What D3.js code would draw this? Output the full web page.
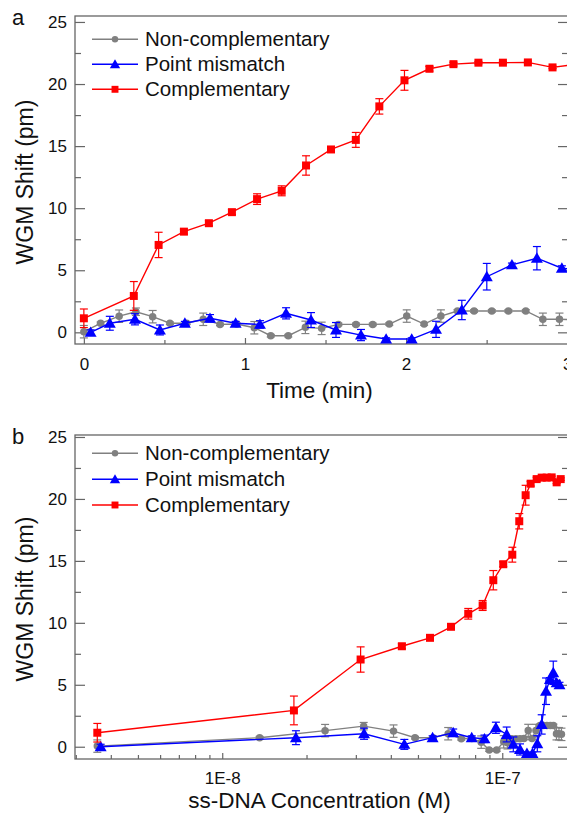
<!DOCTYPE html>
<html>
<head>
<meta charset="utf-8">
<script src="https://cdn.jsdelivr.net/npm/d3@7"></script>
<style>
html,body{margin:0;padding:0;background:#fff;}
svg{display:block;}
text{font-family:"Liberation Sans",Arial,sans-serif;fill:#111;}
</style>
</head>
<body>
<svg id="chart" width="567" height="816"></svg>
<script>
// ---------- data ----------
const seriesNames = ["Non-complementary", "Point mismatch", "Complementary"];

// Non-complementary
const timeNon = [0,0.104,0.219,0.323,0.427,0.534,0.638,0.741,0.845,0.948,1.058,1.16,1.269,1.375,1.476,1.58,1.689,1.793,1.896,2.004,2.112,2.216,2.319,2.422,2.532,2.635,2.743,2.849,2.952,3.056];
const concNon = [3.58e-9,1.36e-8,2.33e-8,3.20e-8,4.09e-8,4.88e-8,5.66e-8,6.41e-8,7.14e-8,7.78e-8,8.41e-8,8.98e-8,9.55e-8,1.012e-7,1.044e-7,1.080e-7,1.119e-7,1.157e-7,1.195e-7,1.238e-7,1.277e-7,1.319e-7,1.363e-7,1.403e-7,1.444e-7,1.486e-7,1.523e-7,1.562e-7,1.594e-7,1.627e-7];
const shiftNon = [0.05,0.73,1.3,1.66,1.26,0.73,0.73,1.05,0.64,0.67,0.37,-0.27,-0.27,0.4,0.32,0.64,0.64,0.64,0.67,1.31,0.67,1.31,1.72,1.72,1.72,1.72,1.72,1.05,1.05,1.0];
const errNon = [0.5,0.1,0.5,0.3,0.5,0.1,0.1,0.5,0.1,0.1,0.5,0.1,0.1,0.5,0.5,0.1,0.1,0.1,0.1,0.5,0.1,0.5,0.1,0.1,0.1,0.1,0.1,0.5,0.5,0.5];

// Point mismatch
const timePM = [0.042,0.161,0.317,0.472,0.627,0.783,0.942,1.093,1.255,1.41,1.565,1.72,1.876,2.035,2.186,2.346,2.501,2.657,2.812,2.967,3.12];
const concPM = [3.68e-9,1.833e-8,3.21e-8,4.47e-8,5.64e-8,6.68e-8,7.78e-8,8.64e-8,9.49e-8,1.037e-7,1.095e-7,1.157e-7,1.225e-7,1.282e-7,1.334e-7,1.383e-7,1.433e-7,1.480e-7,1.521e-7,1.564e-7,1.601e-7];
const shiftPM = [0.0,0.73,1.05,0.19,0.73,1.13,0.73,0.64,1.53,0.99,0.19,-0.22,-0.54,-0.54,0.24,1.8,4.48,5.43,5.97,5.16,5.0];
const errPM = [0.2,0.56,0.45,0.4,0.15,0.3,0.15,0.3,0.45,0.6,0.6,0.45,0.1,0.1,0.65,0.78,1.07,0.15,0.94,0.2,0.2];

// Complementary
const timeC = [0,0.31,0.464,0.621,0.776,0.919,1.075,1.228,1.379,1.534,1.688,1.834,1.99,2.145,2.294,2.449,2.601,2.756,2.909,3.06];
const concC = [3.58e-9,1.803e-8,3.12e-8,4.38e-8,5.52e-8,6.56e-8,7.56e-8,8.51e-8,9.29e-8,1.008e-7,1.086e-7,1.15e-7,1.212e-7,1.263e-7,1.327e-7,1.383e-7,1.441e-7,1.501e-7,1.564e-7,1.617e-7];
const shiftC = [1.13,2.93,7.04,8.11,8.79,9.68,10.73,11.4,13.44,14.73,15.5,18.2,20.3,21.23,21.6,21.72,21.72,21.74,21.34,21.6];
const errC = [0.75,1.16,1.02,0.2,0.2,0.2,0.43,0.4,0.78,0.2,0.6,0.62,0.8,0.19,0.15,0.1,0.1,0.1,0.1,0.1];

// ticks
const yTicks = [0,5,10,15,20,25];
const yMinor = [2.5,7.5,12.5,17.5,22.5];
const timeTicks = [0,1,2,3];
const timeMinor = [0.5,1.5,2.5];
const concTicks = [1e-8,1e-7];
const concTickLabels = ["1E-8","1E-7"];
const concMinor = [3e-9,4e-9,5e-9,6e-9,7e-9,8e-9,9e-9,2e-8,3e-8,4e-8,5e-8,6e-8,7e-8,8e-8,9e-8];

const colors = ["#808080","#0000ff","#ff0000"];
const symbols = [d3.symbolCircle, d3.symbolTriangle, d3.symbolSquare];
const symSizes = [44, 62, 64];

// ---------- drawing ----------
const svg = d3.select("#chart");
const axisColor = "#666";
const fontTick = 17;

function panel(opts){
  const {x, y, top, bottom, left, right, xKey, label, xTitle, xTitleY, legendY, xTicks, xMinor, xFormat, xPad} = opts;
  const g = svg.append("g");
  g.append("rect").attr("x", left).attr("y", top).attr("width", right-left).attr("height", bottom-top)
    .attr("fill","none").attr("stroke", axisColor).attr("stroke-width", 1.3);

  const yAx = g.append("g").attr("transform", `translate(${left},0)`)
    .call(d3.axisLeft(y).tickValues(yTicks).tickSizeInner(-10).tickSizeOuter(0).tickPadding(8).tickFormat(d3.format("d")));
  const yAxMin = g.append("g").attr("transform", `translate(${left},0)`)
    .call(d3.axisLeft(y).tickValues(yMinor).tickSizeInner(-6).tickSizeOuter(0).tickFormat(""));
  const yR = g.append("g").attr("transform", `translate(${right},0)`)
    .call(d3.axisRight(y).tickValues(yTicks).tickSizeInner(-10).tickSizeOuter(0).tickFormat(""));
  const yRMin = g.append("g").attr("transform", `translate(${right},0)`)
    .call(d3.axisRight(y).tickValues(yMinor).tickSizeInner(-6).tickSizeOuter(0).tickFormat(""));
  const xAx = g.append("g").attr("transform", `translate(0,${bottom})`)
    .call(d3.axisBottom(x).tickValues(xTicks).tickSizeInner(-6).tickSizeOuter(0).tickPadding(xPad).tickFormat(xFormat));
  const xAxMin = g.append("g").attr("transform", `translate(0,${bottom})`)
    .call(d3.axisBottom(x).tickValues(xMinor).tickSizeInner(-4).tickSizeOuter(0).tickFormat(""));

  [yAx,yAxMin,yR,yRMin,xAx,xAxMin].forEach(a=>{
    a.select(".domain").remove();
    a.selectAll("line").attr("stroke", axisColor).attr("stroke-width", 1.2);
    a.selectAll("text").attr("font-size", fontTick).attr("font-family","Liberation Sans, Arial, sans-serif").attr("fill","#111");
  });

  g.append("text").attr("transform", `translate(33,${(top+bottom)/2 + 2}) rotate(-90)`)
    .attr("text-anchor","middle").attr("font-size", 23).text("WGM Shift (pm)");
  g.append("text").attr("x", (left+right)/2 - 2).attr("y", xTitleY)
    .attr("text-anchor","middle").attr("font-size", 22.5).text(xTitle);
  g.append("text").attr("x", 12).attr("y", top + 9).attr("font-size", 22).text(label);

  const sets = [
    {t: timeNon, c: concNon, v: shiftNon, e: errNon},
    {t: timePM, c: concPM, v: shiftPM, e: errPM},
    {t: timeC, c: concC, v: shiftC, e: errC}
  ];
  sets.forEach((s, si) => {
    const xs = xKey === "t" ? s.t : s.c;
    const pts = xs.map((xv, i) => ({x: x(xv), y: y(s.v[i]), lo: y(s.v[i]-s.e[i]), hi: y(s.v[i]+s.e[i])}));
    const sg = g.append("g");
    sg.append("path").datum(pts)
      .attr("d", d3.line().x(d=>d.x).y(d=>d.y))
      .attr("fill","none").attr("stroke", colors[si]).attr("stroke-width", 1.4);
    const eb = sg.selectAll(".eb").data(pts).enter().append("g");
    eb.append("line").attr("x1", d=>d.x).attr("x2", d=>d.x).attr("y1", d=>d.lo).attr("y2", d=>d.hi)
      .attr("stroke", colors[si]).attr("stroke-width", 1.2);
    eb.append("line").attr("x1", d=>d.x-4).attr("x2", d=>d.x+4).attr("y1", d=>d.lo).attr("y2", d=>d.lo)
      .attr("stroke", colors[si]).attr("stroke-width", 1.2);
    eb.append("line").attr("x1", d=>d.x-4).attr("x2", d=>d.x+4).attr("y1", d=>d.hi).attr("y2", d=>d.hi)
      .attr("stroke", colors[si]).attr("stroke-width", 1.2);
    sg.selectAll(".mk").data(pts).enter().append("path")
      .attr("transform", d=>`translate(${d.x},${d.y + (si===1?1:0)})`)
      .attr("d", d3.symbol().type(symbols[si]).size(symSizes[si]))
      .attr("fill", colors[si]);
  });

  seriesNames.forEach((name, i) => {
    const ly = legendY[i];
    g.append("line").attr("x1", 92).attr("x2", 138).attr("y1", ly).attr("y2", ly)
      .attr("stroke", colors[i]).attr("stroke-width", 1.4);
    g.append("path").attr("transform", `translate(115,${ly + (i===1?1:0)})`)
      .attr("d", d3.symbol().type(symbols[i]).size(symSizes[i]*0.75)).attr("fill", colors[i]);
    g.append("text").attr("x", 145).attr("y", ly + 7).attr("font-size", 20.5).text(name);
  });
}

const xTime = d3.scaleLinear().domain([-0.055, 3.005]).range([75, 568]);
const yTop = d3.scaleLinear().domain([-0.94, 25.48]).range([344, 16]);
panel({x: xTime, y: yTop, top: 16, bottom: 344, left: 75, right: 568, xKey: "t", label: "a",
  xTitle: "Time (min)", xTitleY: 398, legendY: [39.3, 64.3, 89.3],
  xTicks: timeTicks, xMinor: timeMinor, xFormat: d3.format("d"), xPad: 14});

const xConc = d3.scaleLog().domain([2.98e-9, 1.717e-7]).range([75, 568]);
const yBot = d3.scaleLinear().domain([-0.99, 25.16]).range([759, 435]);
panel({x: xConc, y: yBot, top: 435, bottom: 759, left: 75, right: 568, xKey: "c", label: "b",
  xTitle: "ss-DNA Concentration (M)", xTitleY: 808, legendY: [453.3, 479.3, 505],
  xTicks: concTicks, xMinor: concMinor, xFormat: (d)=>concTickLabels[concTicks.indexOf(d)], xPad: 12.5});
</script>
</body>
</html>
